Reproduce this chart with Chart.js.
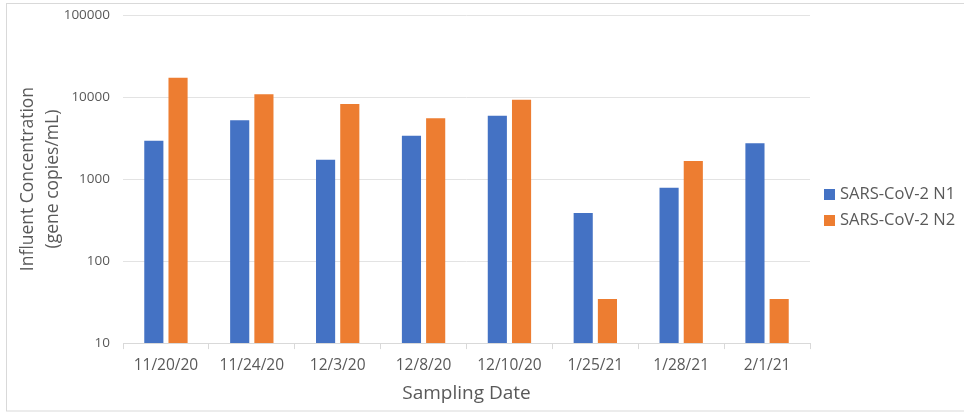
<!DOCTYPE html>
<html>
<head>
<meta charset="utf-8">
<script src="https://cdn.jsdelivr.net/npm/chart.js@4"></script>
<style>
  body { margin: 0; background: #fff; }
  #wrap { position: relative; width: 964px; height: 412px; }
  #legend { position: absolute; left: 824px; top: 180px; font-family: "Open Sans", sans-serif; font-size: 16.5px; color: #595959; }
  #legend div { height: 26px; line-height: 26px; white-space: nowrap; }
  #legend span { display: inline-block; width: 11px; height: 11px; margin-right: 5px; vertical-align: -1px; }
</style>
</head>
<body>
<div id="wrap">
  <canvas id="chart" width="964" height="412"></canvas>
  <div id="legend"></div>
</div>
<script>
// Sampling dates on the x axis
const dates = ['11/20/20', '11/24/20', '12/3/20', '12/8/20', '12/10/20', '1/25/21', '1/28/21', '2/1/21'];

// Influent concentration, gene copies/mL
const n1Values = [2940, 5200, 1720, 3380, 5930, 385, 785, 2730];
const n2Values = [17200, 10800, 8240, 5510, 9290, 34.5, 1660, 34.5];

// Decade ticks on the log axis
const yTicks = [10, 100, 1000, 10000, 100000];

const seriesNames = ['SARS-CoV-2 N1', 'SARS-CoV-2 N2'];
const seriesColors = ['#4472C4', '#ED7D31'];

const ctx = document.getElementById('chart').getContext('2d');

// Light frame around the whole chart, like the spreadsheet export
const framePlugin = {
    id: 'frame',
    beforeDraw(chart) {
        const c = chart.ctx;
        c.save();
        c.strokeStyle = '#d9d9d9';
        c.lineWidth = 1;
        c.strokeRect(6.5, 3.5, 980, 407.5);
        c.restore();
    }
};

const chart = new Chart(ctx, {
    type: 'bar',
    data: {
        labels: dates,
        datasets: [
            { label: seriesNames[0], data: n1Values, backgroundColor: seriesColors[0] },
            { label: seriesNames[1], data: n2Values, backgroundColor: seriesColors[1] }
        ]
    },
    options: {
        responsive: false,
        animation: false,
        layout: { padding: { left: 16, right: 154, top: 15, bottom: 7.5 } },
        datasets: { bar: { categoryPercentage: 0.564, barPercentage: 0.79 } },
        plugins: {
            legend: { display: false },
            tooltip: { enabled: false }
        },
        scales: {
            x: {
                grid: { offset: true, drawOnChartArea: false, color: '#d9d9d9', tickLength: 6 },
                border: { color: '#d9d9d9' },
                ticks: { color: '#595959', font: { family: 'Open Sans', size: 15.5 }, padding: 7 },
                title: { display: true, text: 'Sampling Date', color: '#595959', font: { family: 'Open Sans', size: 19 }, padding: { top: 0, bottom: 0 } }
            },
            y: {
                type: 'logarithmic',
                min: 10,
                max: 100000,
                afterBuildTicks: (axis) => { axis.ticks = yTicks.map(v => ({ value: v })); },
                // fixed width so the title sits close to the tick labels; no extra top room
                afterFit: (axis) => {
                    axis.width = 107;
                    axis.paddingTop = 0;
                    axis.paddingBottom = 0;
                },
                grid: { color: '#e3e3e3', drawTicks: false },
                border: { display: false },
                ticks: {
                    color: '#595959',
                    font: { family: 'Open Sans', size: 13.5 },
                    padding: 13,
                    callback: (v) => String(v)
                },
                title: {
                    display: true,
                    text: ['Influent Concentration', '(gene copies/mL)'],
                    color: '#595959',
                    font: { family: 'Open Sans', size: 17.5, lineHeight: 1.42 },
                    padding: { top: 0, bottom: 0 }
                }
            }
        }
    },
    plugins: [framePlugin]
});

// HTML legend built from the dataset labels
const legend = document.getElementById('legend');
seriesNames.forEach((name, i) => {
    const row = document.createElement('div');
    row.innerHTML = '<span style="background:' + seriesColors[i] + '"></span>' + name;
    legend.appendChild(row);
});
</script>
</body>
</html>
